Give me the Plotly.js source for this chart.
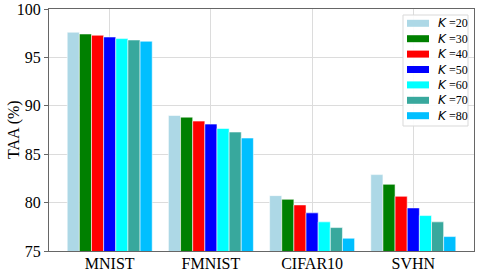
<!DOCTYPE html>
<html><head><meta charset="utf-8">
<script src="https://cdn.plot.ly/plotly-3.0.1.min.js"></script>
<style>html,body{margin:0;padding:0;background:#fff}</style>
</head><body><div id="chart" style="width:478px;height:274px"></div>
<script>
const categories = ["MNIST", "FMNIST", "CIFAR10", "SVHN"];
const kLabels = ["20", "30", "40", "50", "60", "70", "80"];
const k20 = [97.6, 89.0, 80.72, 82.89];
const k30 = [97.42, 88.83, 80.34, 81.89];
const k40 = [97.29, 88.42, 79.76, 80.65];
const k50 = [97.11, 88.11, 78.94, 79.45];
const k60 = [96.94, 87.66, 78.01, 78.66];
const k70 = [96.8, 87.29, 77.42, 78.01];
const k80 = [96.67, 86.67, 76.32, 76.49];
const series = [k20, k30, k40, k50, k60, k70, k80];
const colors = ["#add8e6", "#008000", "#ff0000", "#0000ff", "#00ffff", "#38a89d", "#00bfff"];
const yTitle = "TAA (%)";

const W = 478, H = 274;
const M = {l: 49, r: 4, t: 9, b: 23};
const PW = W - M.l - M.r, PH = H - M.t - M.b;
const px = x => (x - M.l) / PW;
const py = y => (H - M.b - y) / PH;

const traces = series.map((vals, i) => ({
  type: "bar",
  x: categories,
  y: vals,
  name: "K =" + kLabels[i],
  marker: {color: colors[i], line: {color: "rgba(255,255,255,0.55)", width: 1}},
  hoverinfo: "none",
  showlegend: false
}));

// custom legend (matplotlib-like compact layout)
const shapes = [{
  type: "rect", xref: "paper", yref: "paper",
  x0: px(403), x1: px(468), y0: py(126), y1: py(15),
  line: {color: "#d9d9d9", width: 1}, fillcolor: "rgba(255,255,255,0.9)", layer: "above"
}];
const annotations = [];
kLabels.forEach((k, i) => {
  const yc = 23.3 + i * 15.4;
  shapes.push({
    type: "rect", xref: "paper", yref: "paper",
    x0: px(407), x1: px(429), y0: py(yc + 3.5), y1: py(yc - 3.5),
    fillcolor: colors[i], line: {width: 0}, layer: "above"
  });
  annotations.push({
    xref: "paper", yref: "paper", x: px(436), y: py(yc),
    xanchor: "left", yanchor: "middle", showarrow: false,
    text: '<span style="font-family:\'DejaVu Sans\'"><i>K</i></span><span style="font-family:\'Liberation Serif\'"> =' + k + '</span>',
    font: {size: 12, family: "Liberation Serif", color: "#000"}
  });
});
annotations.push({
  xref: "paper", yref: "paper", x: px(14), y: py(130),
  xanchor: "center", yanchor: "middle", showarrow: false, textangle: -90,
  text: yTitle, font: {size: 16, family: "Liberation Serif", color: "#000"}
});

const layout = {
  width: W, height: H,
  margin: M,
  paper_bgcolor: "#fff", plot_bgcolor: "#fff",
  barmode: "group", bargap: 0.16, bargroupgap: 0,
  font: {family: "Liberation Serif", color: "#000", size: 16},
  xaxis: {
    type: "category", range: [-0.6, 3.6],
    showgrid: true, gridcolor: "#dcdcdc", gridwidth: 1,
    showline: true, linecolor: "#666", linewidth: 1, mirror: true,
    ticks: "", ticklabelstandoff: -2,
    tickfont: {size: 16, family: "Liberation Serif"}
  },
  yaxis: {
    range: [75, 100], tickvals: [75, 80, 85, 90, 95, 100],
    showgrid: true, gridcolor: "#dcdcdc", gridwidth: 1,
    showline: true, linecolor: "#666", linewidth: 1, mirror: true,
    ticks: "outside", ticklen: 4, tickcolor: "#666",
    tickfont: {size: 16, family: "Liberation Serif"},
    zeroline: false
  },
  shapes: shapes,
  annotations: annotations,
  showlegend: false
};
Plotly.newPlot("chart", traces, layout, {staticPlot: true, displayModeBar: false});
</script></body></html>
